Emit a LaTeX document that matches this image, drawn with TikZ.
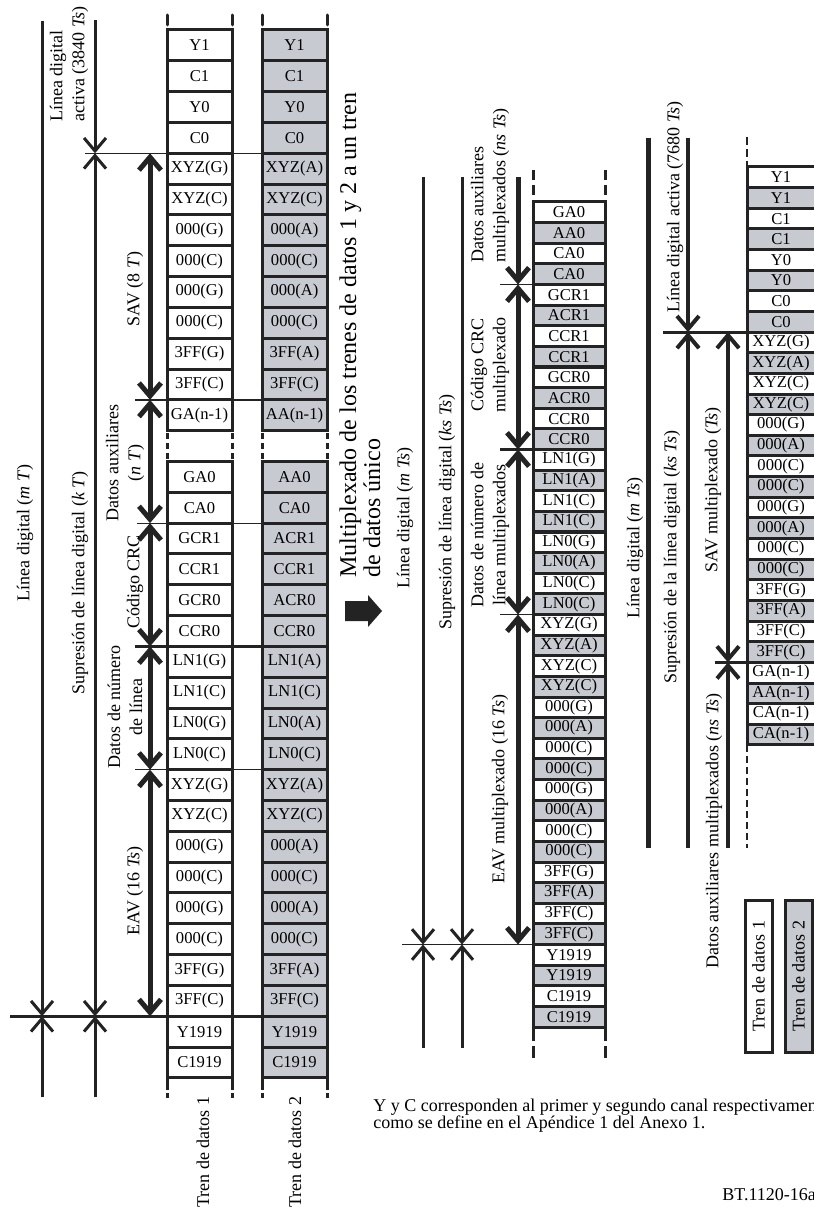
\documentclass[tikz,border=0pt]{standalone}
\usepackage{fontspec}
\setmainfont{Liberation Serif}
\usetikzlibrary{arrows.meta}
\definecolor{grisc}{RGB}{199,202,208}
\definecolor{trazo}{RGB}{35,35,35}
\newcommand{\tcel}{\fontsize{8.3}{8.3}\selectfont}
\newcommand{\tlab}{\fontsize{9}{11}\selectfont}
\tikzset{
  celda/.style={draw=trazo,line width=1.5pt,fill=white,inner sep=0pt,font=\tcel},
  celizq/.style={celda,minimum width=32.5pt,minimum height=15.41pt},
  celmed/.style={celda,minimum width=36pt,minimum height=10.31pt},
  celder/.style={celda,minimum width=34pt,minimum height=10.32pt},
  etiq/.style={rotate=90,inner sep=0pt,font=\tlab,align=center},
  linea/.style={draw=trazo,line width=1.5pt},
  lineag/.style={draw=trazo,line width=2.5pt},
  fino/.style={draw=trazo,line width=0.6pt},
  fl/.style={-{Straight Barb[length=6.5pt,width=11pt]}},
  fli/.style={{Straight Barb[length=6.5pt,width=11pt]}-},
  fld/.style={{Straight Barb[length=6.5pt,width=11pt]}-{Straight Barb[length=6.5pt,width=11pt]}}
}

\begin{document}
\begin{tikzpicture}[x=0.5pt,y=-0.5pt]
\useasboundingbox (0,0) rectangle (813,1214);

\foreach \txa/\txb [count=\i from 0] in {Y1/Y1,C1/C1,Y0/Y0,C0/C0,XYZ(G)/XYZ(A),XYZ(C)/XYZ(C),000(G)/000(A),000(C)/000(C),000(G)/000(A),000(C)/000(C),3FF(G)/3FF(A),3FF(C)/3FF(C),GA(n-1)/AA(n-1),-/-,GA0/AA0,CA0/CA0,GCR1/ACR1,CCR1/CCR1,GCR0/ACR0,CCR0/CCR0,LN1(G)/LN1(A),LN1(C)/LN1(C),LN0(G)/LN0(A),LN0(C)/LN0(C),XYZ(G)/XYZ(A),XYZ(C)/XYZ(C),000(G)/000(A),000(C)/000(C),000(G)/000(A),000(C)/000(C),3FF(G)/3FF(A),3FF(C)/3FF(C),Y1919/Y1919,C1919/C1919}{
  \ifnum\i=13\relax\else
    \node[celizq] (a\i) at (199.5,{45.41+30.82*\i}) {\txa};
    \node[celizq,fill=grisc] (b\i) at (294.5,{45.41+30.82*\i}) {\txb};
  \fi
}
\foreach \xx in {167,232,262,327}{
  \draw[linea,line cap=round] (\xx,15) -- (\xx,25);
  \draw[linea,dash pattern=on 3pt off 2pt] (\xx,433) -- (\xx,461.5);
  \draw[linea,dash pattern=on 6pt off 1.5pt on 2.5pt off 20pt] (\xx,1078) -- (\xx,1098);
}

\foreach \txa [count=\j from 0] in {GA0,AA0,CA0,CA0,GCR1,ACR1,CCR1,CCR1,GCR0,ACR0,CCR0,CCR0,LN1(G),LN1(A),LN1(C),LN1(C),LN0(G),LN0(A),LN0(C),LN0(C),XYZ(G),XYZ(A),XYZ(C),XYZ(C),000(G),000(A),000(C),000(C),000(G),000(A),000(C),000(C),3FF(G),3FF(A),3FF(C),3FF(C),Y1919,Y1919,C1919,C1919}{
  \ifodd\j\relax
    \node[celmed,fill=grisc] (c\j) at (569,{212.31+20.625*\j}) {\txa};
  \else
    \node[celmed] (c\j) at (569,{212.31+20.625*\j}) {\txa};
  \fi
}
\foreach \xx in {533,605}{
  \draw[linea,dash pattern=on 5pt off 2.5pt] (\xx,170) -- (\xx,202);
  \draw[linea,dash pattern=on 7pt off 2.5pt on 7pt off 20pt] (\xx,1027) -- (\xx,1058);
}

\foreach \txa [count=\k from 0] in {Y1,Y1,C1,C1,Y0,Y0,C0,C0,XYZ(G),XYZ(A),XYZ(C),XYZ(C),000(G),000(A),000(C),000(C),000(G),000(A),000(C),000(C),3FF(G),3FF(A),3FF(C),3FF(C),GA(n-1),AA(n-1),CA(n-1),CA(n-1)}{
  \ifodd\k\relax
    \node[celder,fill=grisc] (r\k) at (781,{177.32+20.64*\k}) {\txa};
  \else
    \node[celder] (r\k) at (781,{177.32+20.64*\k}) {\txa};
  \fi
}
\draw[linea,line width=1pt,dash pattern=on 4pt off 2pt] (747,137) -- (747,167);
\draw[linea,line width=1pt,dash pattern=on 3.5pt off 2pt] (747,745) -- (747,848);

\coordinate (ld1) at (42,21);
\coordinate (ld2) at (42,1016.24);
\coordinate (ld3) at (42,1097);
\coordinate (la1) at (95,20);
\coordinate (la2) at (95,153.28);
\coordinate (la3) at (95,1016.24);
\coordinate (la4) at (95,1097);
\coordinate (s0) at (150,153.28);
\coordinate (s1) at (150,399.84);
\coordinate (s2) at (150,523.12);
\coordinate (s3) at (150,646.4);
\coordinate (s4) at (150,769.68);
\coordinate (s5) at (150,1016.24);
\coordinate (h0) at (85,153.28);
\coordinate (h1) at (135,399.84);
\coordinate (h2) at (137,523.12);
\coordinate (h3) at (135,646.4);
\coordinate (h4) at (135,769.68);
\coordinate (h5) at (10,1016.24);
\draw[fino] (h0) -- (h0 -| b4.west);
\draw[fino,line width=1pt] (h1) -- (h1 -| b12.west);
\draw[fino] (h2) -- (h2 -| b16.west);
\draw[linea] (h3) -- (h3 -| b20.west);
\draw[fino] (h4) -- (h4 -| b24.west);
\draw[linea] (h5) -- (h5 -| b32.west);
\draw[linea,fl] (ld1) -- (ld2);
\draw[linea,fl] (ld3) -- (ld2);
\draw[linea,fl] (la1) -- (la2);
\draw[linea,fld] (la2) -- (la3);
\draw[linea,fl] (la4) -- (la3);
\draw[lineag,fld] (s0) -- (s1);
\draw[lineag,fld] (s1) -- (s2);
\draw[lineag,fld] (s2) -- (s3);
\draw[lineag,fld] (s3) -- (s4);
\draw[lineag,fld] (s4) -- (s5);

\node[etiq] (ldlab) at (25,533) {Línea digital (\textit{m T})};
\node[etiq,align=left,anchor=west] (ldalab) at (69,122) {Línea digital\\activa (3840 \textit{Ts})};
\node[etiq] (suplab) at (80,583) {Supresión de línea digital (\textit{k T})};
\node[etiq] (savlab) at (135,289) {SAV (8 \textit{T})};
\node[etiq] (auxlab) at (125,463) {Datos auxiliares\\(\textit{n T})};
\node[etiq] (crclab) at (135,582) {Código CRC};
\node[etiq] (lnlab) at (125,707) {Datos de número\\de línea};
\node[etiq] (eavlab) at (135,891) {EAV (16 \textit{Ts})};
\node[etiq] (tren1) at (203,1152) {Tren de datos 1};
\node[etiq] (tren2) at (295,1152) {Tren de datos 2};

\coordinate (flgr) at (345,611);
\fill[trazo] (flgr) ++(0,-10) -- ++(23,0) -- ++(0,-6) -- ++(14,16) -- ++(-14,16) -- ++(0,-6) -- ++(-23,0) -- cycle;
\node[rotate=90,anchor=north west,align=left,inner sep=0pt,font=\fontsize{12}{12}\selectfont] (titulo) at (339,578) {Multiplexado de los trenes de datos 1 y 2 a un tren\\de datos único};

\coordinate (ml1) at (423,177);
\coordinate (ml2) at (423,944.5);
\coordinate (ml3) at (423,1048);
\coordinate (ms1) at (462,177);
\coordinate (ms2) at (462,944.5);
\coordinate (ms3) at (462,1048);
\coordinate (m0) at (518,177);
\coordinate (m1) at (518,284.5);
\coordinate (m2) at (518,449.5);
\coordinate (m3) at (518,614.5);
\coordinate (m4) at (518,944.5);
\coordinate (g1) at (500,284.5);
\coordinate (g2) at (500,449.5);
\coordinate (g3) at (500,614.5);
\coordinate (g4) at (402,944.5);
\draw[fino] (g1) -- (g1 -| c4.west);
\draw[fino,line width=1.2pt] (g2) -- (g2 -| c12.west);
\draw[fino] (g3) -- (g3 -| c20.west);
\draw[fino] (g4) -- (g4 -| c36.west);
\draw[linea,fl] (ml1) -- (ml2);
\draw[linea,fl] (ml3) -- (ml2);
\draw[linea,fl] (ms1) -- (ms2);
\draw[linea,fl] (ms3) -- (ms2);
\draw[lineag,fl] (m0) -- (m1);
\draw[lineag,fld] (m1) -- (m2);
\draw[lineag,fld] (m2) -- (m3);
\draw[lineag,fld] (m3) -- (m4);

\node[etiq] (mllab) at (405,518) {Línea digital (\textit{m Ts})};
\node[etiq] (mslab) at (447,512) {Supresión de línea digital (\textit{ks Ts})};
\node[etiq,align=left,anchor=west] (mauxlab) at (490,263) {Datos auxiliares\\multiplexados (\textit{ns Ts})};
\node[etiq] (mcrclab) at (490,365) {Código CRC\\multiplexado};
\node[etiq] (mlnlab) at (490,535) {Datos de número de\\línea multiplexados};
\node[etiq] (meavlab) at (500,789) {EAV multiplexado (16 \textit{Ts})};

\coordinate (rl1) at (648,138);
\coordinate (rl2) at (648,848);
\coordinate (ra1) at (688,138);
\coordinate (ra2) at (688,332.1);
\coordinate (ra3) at (688,848);
\coordinate (rs1) at (728,332.1);
\coordinate (rs2) at (728,662.4);
\coordinate (rs3) at (728,848);
\coordinate (q1) at (663,332.1);
\coordinate (q2) at (715,662.4);
\draw[linea] (q1) -- (q1 -| r8.west);
\draw[linea] (q2) -- (q2 -| r24.west);
\draw[lineag] (rl1) -- (rl2);
\draw[linea,line width=2pt,fl] (ra1) -- (ra2);
\draw[linea,line width=2pt,fli] (ra2) -- (ra3);
\draw[linea,line width=2pt,fld] (rs1) -- (rs2);
\draw[linea,line width=2pt,fli] (rs2) -- (rs3);

\node[etiq] (rllab) at (635,548) {Línea digital (\textit{m Ts})};
\node[etiq] (ralab) at (675,207) {Línea digital activa (7680 \textit{Ts})};
\node[etiq] (rslab) at (672,557) {Supresión de la línea digital (\textit{ks Ts})};
\node[etiq] (rsavlab) at (713,490) {SAV multiplexado (\textit{Ts})};
\node[etiq] (rauxlab) at (714,831) {Datos auxiliares multiplexados (\textit{ns Ts})};

\node[celda,rotate=90,minimum width=76pt,minimum height=13.5pt,font=\tlab] (leg1) at (758.5,976) {Tren de datos 1};
\node[celda,rotate=90,minimum width=76pt,minimum height=13.5pt,font=\tlab,fill=grisc] (leg2) at (798.5,976) {Tren de datos 2};

\node[anchor=north west,align=left,inner sep=0pt,font=\fontsize{9}{8.4}\selectfont] (nota) at (373,1099) {Y y C corresponden al primer y segundo canal respectivamente,\\como se define en el Apéndice 1 del Anexo 1.};
\node[anchor=base west,inner sep=0pt,font=\tlab] (bt) at (722,1200) {BT.1120-16a};
\end{tikzpicture}
\end{document}
